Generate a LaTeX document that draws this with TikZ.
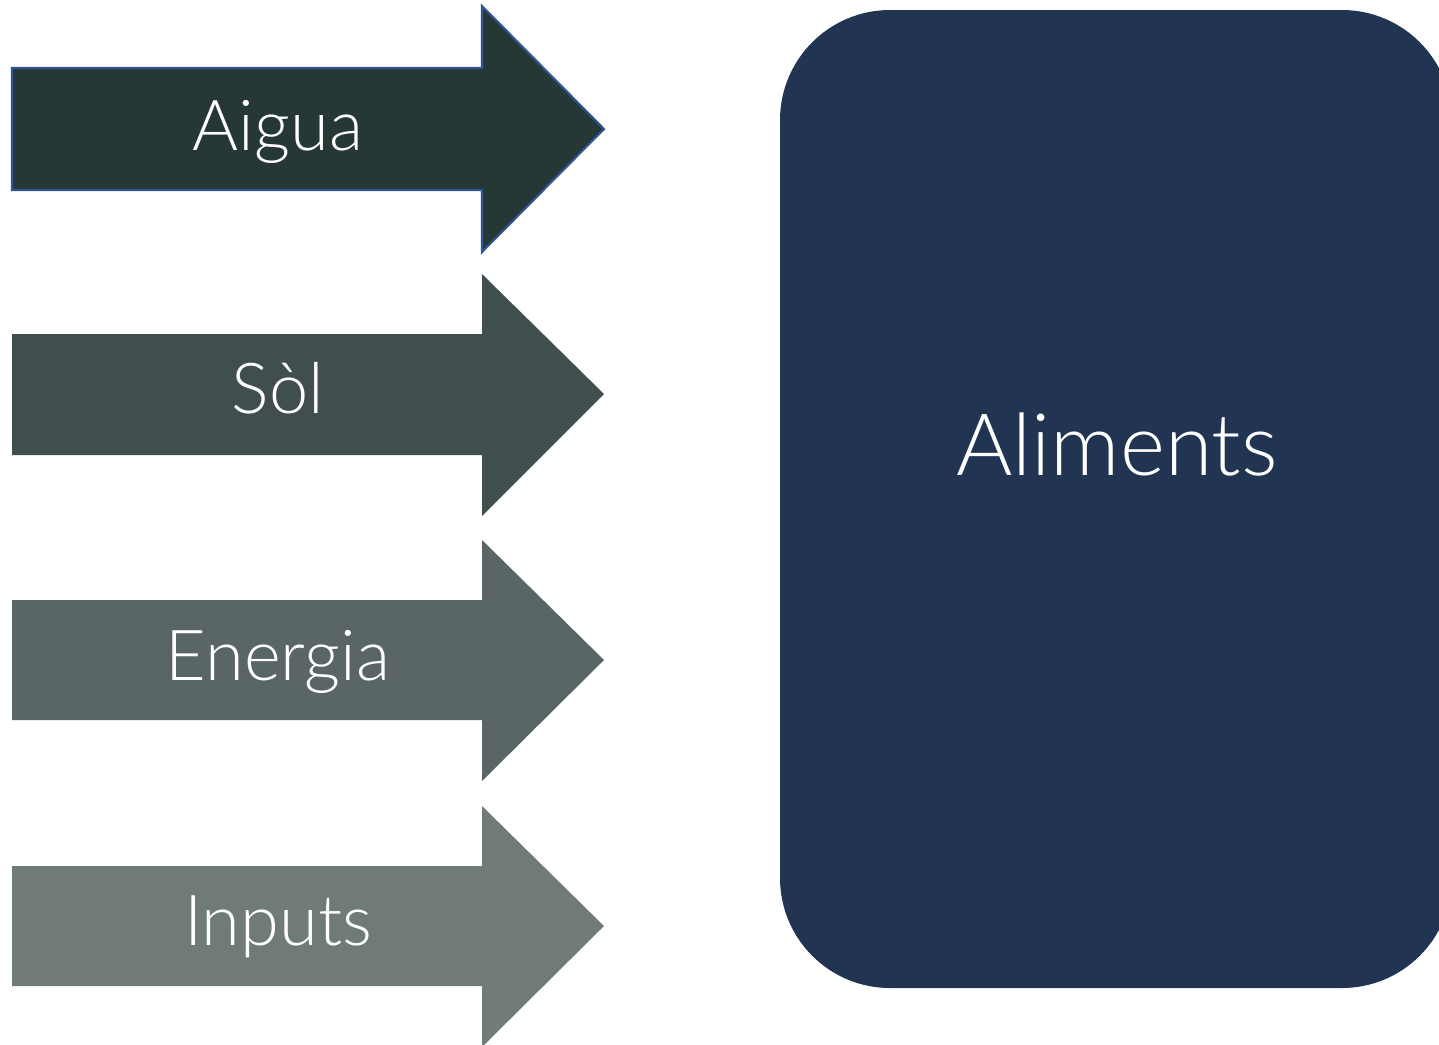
\documentclass[tikz,border=0pt]{standalone}
\usepackage{fontspec}
\setmainfont{Lato}[UprightFont=* Light]
\definecolor{cA}{HTML}{263836}
\definecolor{cS}{HTML}{404F4E}
\definecolor{cE}{HTML}{5A6665}
\definecolor{cI}{HTML}{707B78}
\definecolor{cBox}{HTML}{213553}
\definecolor{cEdge}{HTML}{2F5597}
\begin{document}
\begin{tikzpicture}[x=0.01cm,y=-0.01cm,
  lbl/.style={text=white,font=\fontsize{20}{24}\selectfont,anchor=base,inner sep=0pt},
  big/.style={text=white,font=\fontsize{24.5}{29}\selectfont,anchor=base,inner sep=0pt}]
\useasboundingbox (0,0) rectangle (1439,1044);
\begin{scope}
\clip (0,0) rectangle (1439,1044);
% big box
\fill[cBox,rounded corners=1.1cm] (780,10) rectangle (1452,988);
% arrows: body y0..y1, head yt..yb, tip ym
\newcommand{\myarrow}[6]{%
  \fill[#1] (12,#2) -- (482,#2) -- (482,#4) -- (604,#6) -- (482,#5) -- (482,#3) -- (12,#3) -- cycle;}
\myarrow{cA}{68}{190}{6}{252}{129}
\draw[cEdge,line width=0.6pt,line join=miter] (12,68) -- (482,68) -- (482,6) -- (604,129) -- (482,252) -- (482,190) -- (12,190) -- cycle;
\myarrow{cS}{334}{455}{274}{516}{394}
\myarrow{cE}{600}{720}{540}{781}{660}
\myarrow{cI}{866}{986}{806}{1047}{926}
\end{scope}
\node[lbl] (aigua) at (278,150) {Aigua};
\node[lbl] (sol) at (278,413) {Sòl};
\node[lbl] (energia) at (278,680) {Energia};
\node[lbl] (inputs) at (278,945) {Inputs};
\node[big] (aliments) at (1117,475) {Aliments};
\end{tikzpicture}
\end{document}
